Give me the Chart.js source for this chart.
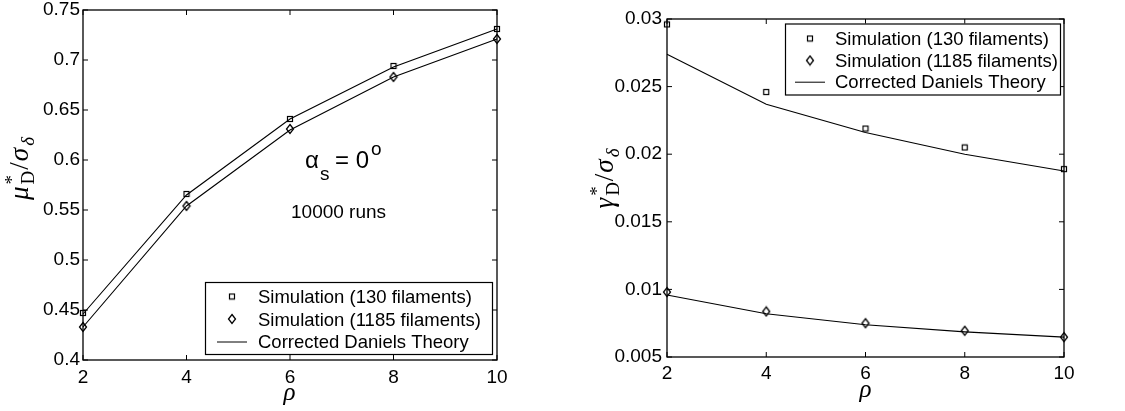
<!DOCTYPE html>
<html>
<head>
<meta charset="utf-8">
<script src="https://cdn.jsdelivr.net/npm/chart.js@4.4.0/dist/chart.umd.min.js"></script>
<style>
  html, body { margin: 0; padding: 0; background: #fff; }
  #wrap { position: relative; width: 1125px; height: 411px; overflow: hidden; }
  canvas { position: absolute; top: 0; }
</style>
</head>
<body>
<div id="wrap">
  <canvas id="chartMu" width="560" height="411" style="left:0"></canvas>
  <canvas id="chartGamma" width="565" height="411" style="left:560px"></canvas>
</div>
<script>
// valores
const rho = [2, 4, 6, 8, 10];
const xTicks = [2, 4, 6, 8, 10];

const muSim130 = [0.447, 0.566, 0.641, 0.694, 0.731];
const muSim1185 = [0.433, 0.554, 0.631, 0.683, 0.721];
const muTheory130 = [0.446, 0.565, 0.641, 0.693, 0.731];
const muTheory1185 = [0.433, 0.554, 0.630, 0.683, 0.721];
const muTicks = [0.4, 0.45, 0.5, 0.55, 0.6, 0.65, 0.7, 0.75];

const gamSim130 = [0.0296, 0.0246, 0.0219, 0.0205, 0.0189];
const gamSim1185 = [0.0098, 0.00837, 0.0075, 0.00694, 0.00647];
const gamTheory130 = [0.0274, 0.0237, 0.0216, 0.0200, 0.01876];
const gamTheory1185 = [0.00958, 0.0082, 0.00738, 0.00686, 0.00647];
const gamTicks = [0.005, 0.01, 0.015, 0.02, 0.025, 0.03];

const legendLabels = ['Simulation (130 filaments)', 'Simulation (1185 filaments)', 'Corrected Daniels Theory'];

const SANS = '"Liberation Sans", Arial, Helvetica, sans-serif';
const SERIF = '"Liberation Serif", "DejaVu Serif", serif';

// marcadores
function makeSquare() {
    const c = document.createElement('canvas');
    c.width = 8; c.height = 8;
    const g = c.getContext('2d');
    g.strokeStyle = '#000'; g.lineWidth = 1.2;
    g.strokeRect(1.5, 1.5, 5, 5);
    return c;
}
function makeDiamond() {
    const c = document.createElement('canvas');
    c.width = 10; c.height = 12;
    const g = c.getContext('2d');
    g.strokeStyle = '#000'; g.lineWidth = 1.3;
    g.beginPath();
    g.moveTo(5, 1.5); g.lineTo(8.5, 6); g.lineTo(5, 10.5); g.lineTo(1.5, 6);
    g.closePath(); g.stroke();
    return c;
}
const sqImg = makeSquare();
const diaImg = makeDiamond();

const pts = ys => rho.map((x, i) => ({ x: x, y: ys[i] }));

function sansText(ctx, s, x, y, size) {
    ctx.save();
    ctx.font = size + 'px ' + SANS;
    ctx.textAlign = 'left';
    ctx.textBaseline = 'alphabetic';
    ctx.fillStyle = '#000';
    ctx.fillText(s, x, y);
    ctx.restore();
}

// titulo con sub/superindices
function drawMath(ctx, cx, cy, rotate, items, base, big, small) {
    ctx.save();
    ctx.translate(cx, cy);
    if (rotate) ctx.rotate(-Math.PI / 2);
    ctx.fillStyle = '#000';
    ctx.textBaseline = 'alphabetic';
    ctx.textAlign = 'left';
    const fontOf = (it, sz) => (it ? 'italic ' : '') + sz + 'px ' + SERIF;
    const widths = items.map(p => {
        if (p.t) { ctx.font = fontOf(p.it, big); return ctx.measureText(p.t).width + 1; }
        let w = 0;
        if (p.sup) { ctx.font = fontOf(false, small); w = Math.max(w, ctx.measureText(p.sup).width); }
        if (p.sub) { ctx.font = fontOf(p.subIt, small); w = Math.max(w, ctx.measureText(p.sub).width); }
        return w + 2;
    });
    let x = -widths.reduce((a, b) => a + b, 0) / 2;
    items.forEach((p, i) => {
        if (p.t) {
            ctx.font = fontOf(p.it, big);
            ctx.fillText(p.t, x, base);
        } else {
            if (p.sup) { ctx.font = fontOf(false, small); ctx.fillText(p.sup, x + 1, base - 10); }
            if (p.sub) { ctx.font = fontOf(p.subIt, small); ctx.fillText(p.sub, x + 1, base + 6); }
        }
        x += widths[i];
    });
    ctx.restore();
}

function drawLegend(ctx, L) {
    ctx.save();
    ctx.fillStyle = '#fff';
    ctx.fillRect(L.x, L.y, L.w, L.h);
    ctx.strokeStyle = '#000';
    ctx.lineWidth = 1.2;
    ctx.strokeRect(L.x + 0.5, L.y + 0.5, L.w, L.h);
    ctx.drawImage(sqImg, L.markX - 4, L.rows[0] - 4);
    ctx.drawImage(diaImg, L.markX - 5, L.rows[1] - 6);
    ctx.lineWidth = 1;
    ctx.beginPath();
    ctx.moveTo(L.lineX1, L.rows[2] + 0.5);
    ctx.lineTo(L.lineX2, L.rows[2] + 0.5);
    ctx.stroke();
    legendLabels.forEach((t, i) => sansText(ctx, t, L.textX, L.rows[i] + 6.5, 18.5));
    ctx.restore();
}

function framePlugin(ticksY) {
    return {
        id: 'marco',
        beforeDatasetsDraw(chart) {
            const ctx = chart.ctx;
            const a = chart.chartArea;
            const sx = chart.scales.x, sy = chart.scales.y;
            const tl = 5;
            ctx.save();
            ctx.strokeStyle = '#000';
            ctx.lineWidth = 1.3;
            ctx.strokeRect(a.left, a.top, a.right - a.left, a.bottom - a.top);
            ctx.lineWidth = 1;
            ctx.beginPath();
            xTicks.forEach(v => {
                const p = sx.getPixelForValue(v);
                ctx.moveTo(p, a.bottom); ctx.lineTo(p, a.bottom - tl);
                ctx.moveTo(p, a.top); ctx.lineTo(p, a.top + tl);
            });
            ticksY.forEach(v => {
                const p = sy.getPixelForValue(v);
                ctx.moveTo(a.left, p); ctx.lineTo(a.left + tl, p);
                ctx.moveTo(a.right, p); ctx.lineTo(a.right - tl, p);
            });
            ctx.stroke();
            ctx.restore();
        }
    };
}

function decorPlugin(dec) {
    return {
        id: 'decor',
        afterDraw(chart) {
            const ctx = chart.ctx;
            drawLegend(ctx, dec.legend);
            drawMath(ctx, dec.yTitle.x, dec.yTitle.y, true, dec.yTitle.items, 8, 27, 19);
            drawMath(ctx, dec.xTitle.x, dec.xTitle.y, false, [{ t: 'ρ', it: true }], 0, 25, 17);
            if (dec.extra) dec.extra(ctx);
        }
    };
}

function buildChart(id, c) {
    const tickFont = { family: SANS, size: 19 };
    const config = {
        type: 'scatter',
        data: {
            datasets: [
                { label: legendLabels[2], data: pts(c.th130), showLine: true, borderColor: '#000', borderWidth: 1.1, pointRadius: 0, clip: false },
                { label: legendLabels[2], data: pts(c.th1185), showLine: true, borderColor: '#000', borderWidth: 1.1, pointRadius: 0, clip: false },
                { label: legendLabels[0], data: pts(c.sim130), showLine: false, pointStyle: sqImg, pointRadius: 4, clip: false },
                { label: legendLabels[1], data: pts(c.sim1185), showLine: false, pointStyle: diaImg, pointRadius: 4, clip: false }
            ]
        },
        options: {
            responsive: false,
            animation: false,
            devicePixelRatio: 1,
            layout: { padding: c.padding },
            plugins: { legend: { display: false }, tooltip: { enabled: false } },
            scales: {
                x: {
                    type: 'linear', min: 2, max: 10,
                    afterBuildTicks: s => { s.ticks = xTicks.map(v => ({ value: v })); },
                    afterFit: s => { s.height = c.xHeight; s.paddingLeft = 0; s.paddingRight = 0; },
                    grid: { display: false, drawTicks: false },
                    border: { display: false },
                    ticks: { font: tickFont, color: '#000', padding: c.xPad, maxRotation: 0, autoSkip: false }
                },
                y: {
                    type: 'linear', min: c.yMin, max: c.yMax,
                    afterBuildTicks: s => { s.ticks = c.yTicks.map(v => ({ value: v })); },
                    afterFit: s => { s.width = c.yWidth; s.paddingTop = 0; s.paddingBottom = 0; },
                    grid: { display: false, drawTicks: false },
                    border: { display: false },
                    ticks: { font: tickFont, color: '#000', padding: c.yPad, autoSkip: false, callback: v => String(v) }
                }
            }
        },
        plugins: [framePlugin(c.yTicks), decorPlugin(c.decor)]
    };
    return new Chart(document.getElementById(id), config);
}

buildChart('chartMu', {
    sim130: muSim130, sim1185: muSim1185, th130: muTheory130, th1185: muTheory1185,
    yMin: 0.4, yMax: 0.75, yTicks: muTicks,
    padding: { top: 10, right: 63, left: 0, bottom: 0 },
    xHeight: 51, yWidth: 83, xPad: 6, yPad: 3,
    decor: {
        legend: { x: 205, y: 282, w: 287, h: 72, rows: [296.5, 319, 341.5], markX: 232, lineX1: 217, lineX2: 247, textX: 258 },
        yTitle: { x: 20, y: 168, items: [{ t: 'μ', it: true }, { sup: '*', sub: 'D' }, { t: '/' }, { t: 'σ', it: true }, { sub: 'δ', subIt: true }] },
        xTitle: { x: 290, y: 400 },
        extra: ctx => {
            ctx.save();
            ctx.fillStyle = '#000';
            ctx.textBaseline = 'alphabetic';
            ctx.font = '24px ' + SANS;
            ctx.fillText('α', 305, 168);
            ctx.fillText('= 0', 335, 168);
            ctx.font = '19px ' + SANS;
            ctx.fillText('s', 320, 180);
            ctx.fillText('o', 371, 155);
            ctx.restore();
            sansText(ctx, '10000 runs', 291, 218, 19);
        }
    }
});

buildChart('chartGamma', {
    sim130: gamSim130, sim1185: gamSim1185, th130: gamTheory130, th1185: gamTheory1185,
    yMin: 0.005, yMax: 0.03, yTicks: gamTicks,
    padding: { top: 19, right: 61, left: 0, bottom: 0 },
    xHeight: 54, yWidth: 107, xPad: 5, yPad: 5,
    decor: {
        legend: { x: 225, y: 23.5, w: 275, h: 71, rows: [38.5, 60.5, 81.7], markX: 250, lineX1: 235, lineX2: 265, textX: 275 },
        yTitle: { x: 45, y: 178, items: [{ t: 'γ', it: true }, { sup: '*', sub: 'D' }, { t: '/' }, { t: 'σ', it: true }, { sub: 'δ', subIt: true }] },
        xTitle: { x: 306, y: 397 }
    }
});
</script>
</body>
</html>
